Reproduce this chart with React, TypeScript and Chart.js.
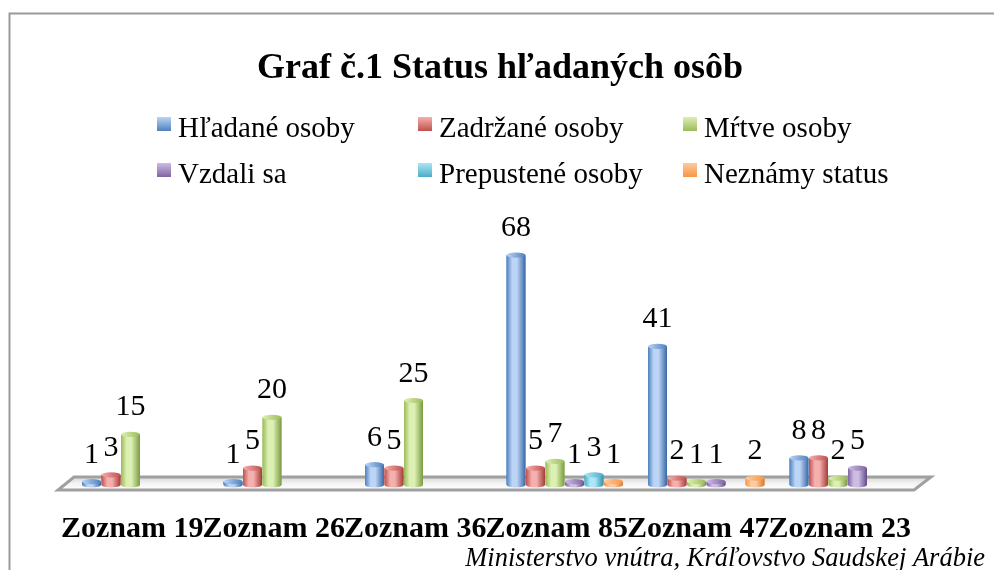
import React, { useEffect, useRef } from 'react';
import { Chart, registerables } from 'chart.js';

Chart.register(...registerables);

const categories = ['Zoznam 19', 'Zoznam 26', 'Zoznam 36', 'Zoznam 85', 'Zoznam 47', 'Zoznam 23'];
const seriesNames = ['Hľadané osoby', 'Zadržané osoby', 'Mŕtve osoby', 'Vzdali sa', 'Prepustené osoby', 'Neznámy status'];
const hladane = [1, 1, 6, 68, 41, 8];
const zadrzane = [3, 5, 5, 5, 2, 8];
const mrtve = [15, 20, 25, 7, 1, 2];
const vzdali = [null, null, null, 1, 1, 5];
const prepustene = [null, null, null, 3, null, null];
const neznamy = [null, null, null, 1, 2, null];
const seriesValues = [hladane, zadrzane, mrtve, vzdali, prepustene, neznamy];

const titleText = 'Graf č.1 Status hľadaných osôb';
const sourceText = 'Ministerstvo vnútra, Kráľovstvo Saudskej Arábie';

const baseColors = ['#4F81BD', '#C0504D', '#9BBB59', '#8064A2', '#4BACC6', '#F79646'];
const lightColors = ['#BCD4F6', '#F4B0AE', '#DDF0B4', '#CDBDE3', '#AEE6F5', '#FCCBA0'];
const darkColors = ['#3A68A5', '#A53C39', '#7A9B40', '#624B86', '#3290AA', '#D97A2C'];

const SERIF = "'Liberation Serif', 'Times New Roman', serif";

const decorPlugin = {
  id: 'decor',
  beforeDraw(chart: any) {
    const ctx = chart.ctx;
    ctx.save();
    ctx.fillStyle = '#ffffff';
    ctx.fillRect(0, 0, chart.width, chart.height);
    ctx.strokeStyle = '#9a9a9a';
    ctx.lineWidth = 2;
    ctx.strokeRect(9.5, 13.5, chart.width + 20, chart.height + 20);
    ctx.restore();
  },
  beforeDatasetsDraw(chart: any) {
    const ctx = chart.ctx;
    const a = chart.chartArea;
    const b = a.bottom;
    ctx.save();
    ctx.beginPath();
    ctx.moveTo(a.left + 4.5, b - 8);
    ctx.lineTo(a.right + 12.5, b - 8);
    ctx.lineTo(a.right - 4.5, b + 5);
    ctx.lineTo(a.left - 11.5, b + 5);
    ctx.closePath();
    const g = ctx.createLinearGradient(0, b - 8, 0, b + 5);
    g.addColorStop(0, '#d6d6d6');
    g.addColorStop(0.5, '#f4f4f4');
    g.addColorStop(1, '#ffffff');
    ctx.fillStyle = g;
    ctx.fill();
    ctx.strokeStyle = '#a0a0a0';
    ctx.lineWidth = 3;
    ctx.lineJoin = 'miter';
    ctx.stroke();
    ctx.restore();
  },
  afterDatasetsDraw(chart: any) {
    const ctx = chart.ctx;
    ctx.save();
    const ry = 2.6;
    chart.data.datasets.forEach((ds: any, di: number) => {
      const meta = chart.getDatasetMeta(di);
      meta.data.forEach((el: any, i: number) => {
        const v = ds.data[i];
        if (v === null || v === undefined) return;
        const w = el.width;
        const rx = w / 2;
        const left = el.x - rx;
        const right = el.x + rx;
        const top = el.y;
        const base = el.base;
        const g = ctx.createLinearGradient(left, 0, right, 0);
        g.addColorStop(0, baseColors[di]);
        g.addColorStop(0.3, lightColors[di]);
        g.addColorStop(0.55, lightColors[di]);
        g.addColorStop(1, darkColors[di]);
        ctx.beginPath();
        ctx.moveTo(left, top);
        ctx.lineTo(left, base);
        ctx.ellipse(el.x, base, rx, ry, 0, Math.PI, 0, true);
        ctx.lineTo(right, top);
        ctx.closePath();
        ctx.fillStyle = g;
        ctx.fill();
        ctx.beginPath();
        ctx.ellipse(el.x, top, rx, ry, 0, 0, Math.PI * 2);
        const tg = ctx.createLinearGradient(left, 0, right, 0);
        tg.addColorStop(0, lightColors[di]);
        tg.addColorStop(1, baseColors[di]);
        ctx.fillStyle = tg;
        ctx.fill();
      });
    });
    ctx.fillStyle = '#000000';
    ctx.font = `30px ${SERIF}`;
    ctx.textAlign = 'center';
    ctx.textBaseline = 'alphabetic';
    chart.data.datasets.forEach((ds: any, di: number) => {
      const meta = chart.getDatasetMeta(di);
      meta.data.forEach((el: any, i: number) => {
        const v = ds.data[i];
        if (v === null || v === undefined) return;
        ctx.fillText(String(v), el.x, el.y - 19);
      });
    });
    ctx.restore();
  },
  afterDraw(chart: any) {
    const ctx = chart.ctx;
    ctx.save();
    ctx.fillStyle = '#000000';
    ctx.textBaseline = 'alphabetic';
    ctx.font = `bold 36px ${SERIF}`;
    ctx.textAlign = 'center';
    ctx.fillText(titleText, 500, 78);
    const cols = [157, 418, 683];
    const rows = [137, 183];
    ctx.font = `29px ${SERIF}`;
    ctx.textAlign = 'left';
    seriesNames.forEach((name, i) => {
      const bx = cols[i % 3];
      const by = rows[Math.floor(i / 3)];
      const g = ctx.createLinearGradient(0, by - 20, 0, by - 6);
      g.addColorStop(0, lightColors[i]);
      g.addColorStop(1, baseColors[i]);
      ctx.fillStyle = g;
      ctx.fillRect(bx, by - 20, 14, 14);
      ctx.fillStyle = '#000000';
      ctx.fillText(name, bx + 21, by);
    });
    ctx.font = `italic 26.5px ${SERIF}`;
    ctx.textAlign = 'right';
    ctx.fillText(sourceText, 985, 566);
    ctx.restore();
  },
};

export default function App() {
  const ref = useRef<HTMLCanvasElement | null>(null);
  useEffect(() => {
    if (!ref.current) return;
    const chart = new Chart(ref.current, {
      type: 'bar',
      data: {
        labels: categories,
        datasets: seriesNames.map((name, i) => ({
          label: name,
          data: seriesValues[i] as any,
          backgroundColor: baseColors[i],
          borderWidth: 0,
          categoryPercentage: 0.827,
          barPercentage: 0.97,
        })),
      },
      options: {
        animation: false,
        responsive: false,
        maintainAspectRatio: false,
        layout: { padding: { left: 69.5, right: 75.5, top: 231.5, bottom: 0 } },
        plugins: {
          legend: { display: false },
          title: { display: false },
          tooltip: { enabled: false },
        },
        scales: {
          x: {
            grid: { display: false, drawTicks: false },
            border: { display: false },
            afterFit: (scale: any) => {
              scale.height = 85;
            },
            ticks: {
              padding: 26,
              labelOffset: -8,
              color: '#000000',
              font: { family: SERIF, size: 30, weight: 'bold' },
              maxRotation: 0,
              autoSkip: false,
            },
          },
          y: {
            display: false,
            min: 0,
            max: 75,
          },
        },
      },
      plugins: [decorPlugin],
    });
    return () => chart.destroy();
  }, []);
  return (
    <div style={{ position: 'absolute', left: 0, top: 0, width: 994, height: 570 }}>
      <canvas ref={ref} width={994} height={570} style={{ display: 'block' }} />
    </div>
  );
}
